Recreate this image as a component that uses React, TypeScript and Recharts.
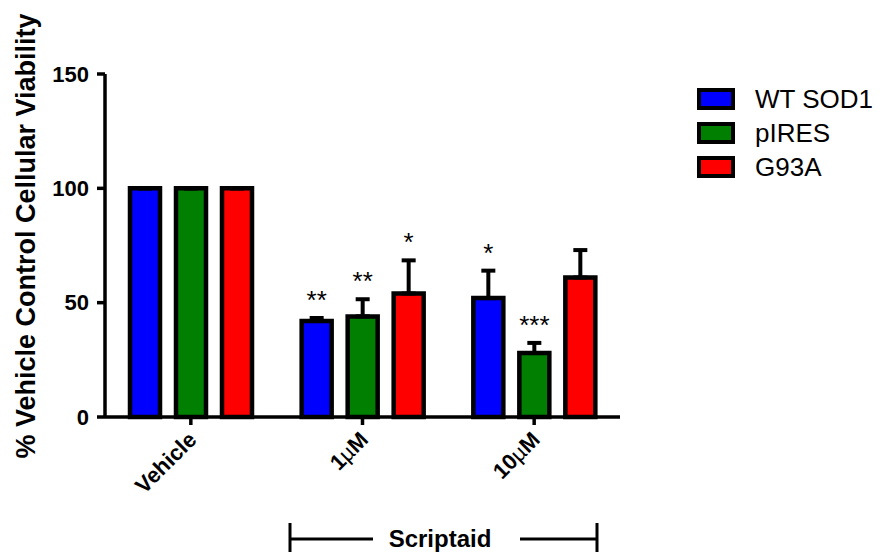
import { BarChart, Bar, XAxis, YAxis, ErrorBar, LabelList, Legend } from 'recharts';

// viability (% of vehicle) per treatment group, mean with upper SEM
const groups = ['Vehicle', '1µM', '10µM'];

const wtSod1 = [100, 42, 52];
const wtSod1Err = [0, 1.3, 12];
const wtSod1Sig = ['', '**', '*'];

const pIres = [100, 44, 28];
const pIresErr = [0, 7.5, 4.4];
const pIresSig = ['', '**', '***'];

const g93a = [100, 54, 61];
const g93aErr = [0, 14.5, 12];
const g93aSig = ['', '*', ''];

const yTicks = [0, 50, 100, 150];

const series = [
  { key: 'wt', name: 'WT SOD1', color: '#0000ff', vals: wtSod1, errs: wtSod1Err },
  { key: 'pires', name: 'pIRES', color: '#007f00', vals: pIres, errs: pIresErr },
  { key: 'g93a', name: 'G93A', color: '#ff0000', vals: g93a, errs: g93aErr },
];

const data = groups.map((name, i) => ({
  name,
  wt: wtSod1[i],
  wtErr: [0, wtSod1Err[i]],
  wtSig: wtSod1Sig[i],
  pires: pIres[i],
  piresErr: [0, pIresErr[i]],
  piresSig: pIresSig[i],
  g93a: g93a[i],
  g93aErr: [0, g93aErr[i]],
  g93aSig: g93aSig[i],
}));

const FONT = '"Liberation Sans", Arial, sans-serif';

// asterisks sit above the top of the error bar
const sigLabel = (vals: number[], errs: number[]) => (props: any) => {
  const { x, y, width, height, index, value } = props;
  if (!value) return null;
  const perUnit = height / vals[index];
  const capY = y - errs[index] * perUnit;
  return (
    <text x={x + width / 2} y={capY - 9} textAnchor="middle" fontSize={26} fill="#000" fontFamily={FONT}>
      {value}
    </text>
  );
};

const XTick = ({ x, y, payload }: any) => {
  const parts = String(payload.value).split('µ');
  return (
    <g transform={`translate(${x + 7},${y + 14})`}>
      <text textAnchor="end" transform="rotate(-45)" fontSize={22} fontWeight="bold" fill="#000" fontFamily={FONT}>
        {parts.length > 1 ? (
          <>
            {parts[0]}
            <tspan fontWeight="normal">µ</tspan>
            {parts[1]}
          </>
        ) : (
          payload.value
        )}
      </text>
    </g>
  );
};

const YLabel = () => (
  <text
    x={27}
    y={228}
    transform="rotate(-90, 27, 228)"
    textAnchor="middle"
    fontSize={27}
    fontWeight="bold"
    fill="#000"
    fontFamily={FONT}
  >
    % Vehicle Control Cellular Viability
  </text>
);

const renderLegend = () => (
  <div style={{ fontFamily: FONT, fontSize: 26, color: '#000' }}>
    {series.map((s) => (
      <div key={s.key} style={{ display: 'flex', alignItems: 'center', height: 34 }}>
        <span style={{ width: 30, height: 14, border: '4px solid #000', background: s.color }} />
        <span style={{ marginLeft: 20 }}>{s.name}</span>
      </div>
    ))}
  </div>
);

export default function App() {
  return (
    <div style={{ position: 'relative', width: 876, height: 544, fontFamily: FONT }}>
      <BarChart
        width={876}
        height={544}
        data={data}
        margin={{ top: 66, right: 264, bottom: 105, left: 0 }}
        barSize={30}
        barGap={16}
      >
        <XAxis
          dataKey="name"
          height={30}
          axisLine={{ stroke: '#000', strokeWidth: 3.5 }}
          tickLine={{ stroke: '#000', strokeWidth: 3.5 }}
          tickSize={8}
          tick={<XTick />}
          interval={0}
        />
        <YAxis
          width={97}
          domain={[0, 150]}
          ticks={yTicks}
          axisLine={{ stroke: '#000', strokeWidth: 3.5 }}
          tickLine={{ stroke: '#000', strokeWidth: 3.5 }}
          tickSize={8}
          tickMargin={8}
          tick={{ fontSize: 22, fontWeight: 'bold', fill: '#000', fontFamily: FONT }}
          label={{ content: () => <YLabel /> }}
        />
        <Legend
          layout="horizontal"
          verticalAlign="middle"
          align="center"
          content={renderLegend}
          wrapperStyle={{ left: 689, top: 74, width: 180 }}
        />
        {series.map((s) => (
          <Bar
            key={s.key}
            dataKey={s.key}
            name={s.name}
            fill={s.color}
            stroke="#000"
            strokeWidth={4.5}
            isAnimationActive={false}
          >
            <ErrorBar dataKey={`${s.key}Err`} width={7} strokeWidth={4} stroke="#000" direction="y" />
            <LabelList dataKey={`${s.key}Sig`} content={sigLabel(s.vals, s.errs)} />
          </Bar>
        ))}
      </BarChart>
      {/* Scriptaid bracket under the two dose groups */}
      <svg width={876} height={544} style={{ position: 'absolute', left: 0, top: 0, pointerEvents: 'none' }}>
        <g stroke="#000" strokeWidth={3}>
          <line x1={282} y1={515} x2={282} y2={544} />
          <line x1={282} y1={531} x2={365} y2={531} />
          <line x1={512} y1={531} x2={589} y2={531} />
          <line x1={589} y1={515} x2={589} y2={544} />
        </g>
        <text x={432} y={539} textAnchor="middle" fontSize={24} fontWeight="bold" fill="#000" fontFamily={FONT}>
          Scriptaid
        </text>
      </svg>
    </div>
  );
}
